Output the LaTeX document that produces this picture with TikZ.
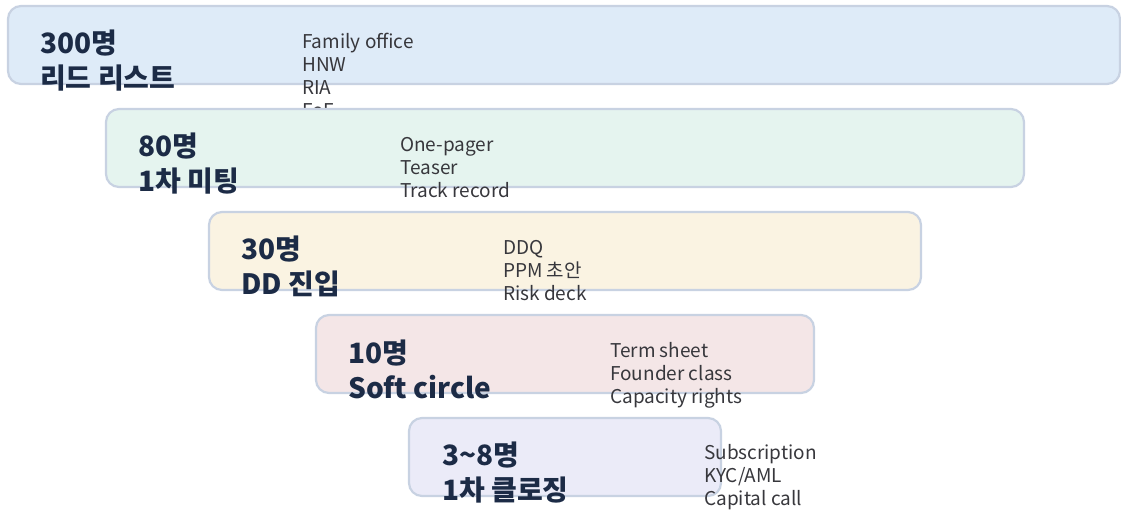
\documentclass[tikz,border=0pt]{standalone}
\usepackage{fontspec}
\setmainfont{Noto Sans CJK KR}
\definecolor{edge}{RGB}{200,210,226}
\definecolor{fA}{RGB}{222,235,248}
\definecolor{fB}{RGB}{229,244,239}
\definecolor{fC}{RGB}{250,243,226}
\definecolor{fD}{RGB}{244,230,231}
\definecolor{fE}{RGB}{235,235,248}
\definecolor{titlecol}{RGB}{28,43,70}
\definecolor{detcol}{RGB}{55,55,60}
\tikzset{
  stagebox/.style={draw=edge, line width=2.2pt, rounded corners=13pt},
  ttl/.style={anchor=base west, inner sep=0pt, text=titlecol, font=\fontsize{28}{32}\selectfont\bfseries},
  det/.style={anchor=base west, inner sep=0pt, text=detcol, font=\fontsize{19}{22}\selectfont},
}
\begin{document}
\begin{tikzpicture}[x=1pt,y=-1pt]
\useasboundingbox (0,0) rectangle (1121,512);
% stage 1
\path[stagebox, fill=fA] (8,6) rectangle (1120,84);
\node[ttl] (t1a) at (40,53) {300명};
\node[ttl] (t1b) at (40,88) {리드 리스트};
\node[det] (d1a) at (302,48) {Family office};
\node[det] (d1b) at (302,71) {HNW};
\node[det] (d1c) at (302,94) {RIA};
\node[det] (d1d) at (302,117) {FoF};
% stage 2
\path[stagebox, fill=fB] (106,109) rectangle (1024,187);
\node[ttl] (t2a) at (138,156) {80명};
\node[ttl] (t2b) at (138,191) {1차 미팅};
\node[det] (d2a) at (400,151) {One-pager};
\node[det] (d2b) at (400,174) {Teaser};
\node[det] (d2c) at (400,197) {Track record};
% stage 3
\path[stagebox, fill=fC] (209,212) rectangle (921,290);
\node[ttl] (t3a) at (241,259) {30명};
\node[ttl] (t3b) at (241,294) {DD 진입};
\node[det] (d3a) at (503,254) {DDQ};
\node[det] (d3b) at (503,277) {PPM 초안};
\node[det] (d3c) at (503,300) {Risk deck};
% stage 4
\path[stagebox, fill=fD] (316,315) rectangle (814,393);
\node[ttl] (t4a) at (348,363) {10명};
\node[ttl] (t4b) at (348,398) {Soft circle};
\node[det] (d4a) at (610,357) {Term sheet};
\node[det] (d4b) at (610,380) {Founder class};
\node[det] (d4c) at (610,403) {Capacity rights};
% stage 5
\path[stagebox, fill=fE] (409,418) rectangle (721,496);
\node[ttl] (t5a) at (442,465) {3\char"7E 8명};
\node[ttl] (t5b) at (442,500) {1차 클로징};
\node[det] (d5a) at (704,459) {Subscription};
\node[det] (d5b) at (704,482) {KYC/AML};
\node[det] (d5c) at (704,505) {Capital call};
\end{tikzpicture}
\end{document}
